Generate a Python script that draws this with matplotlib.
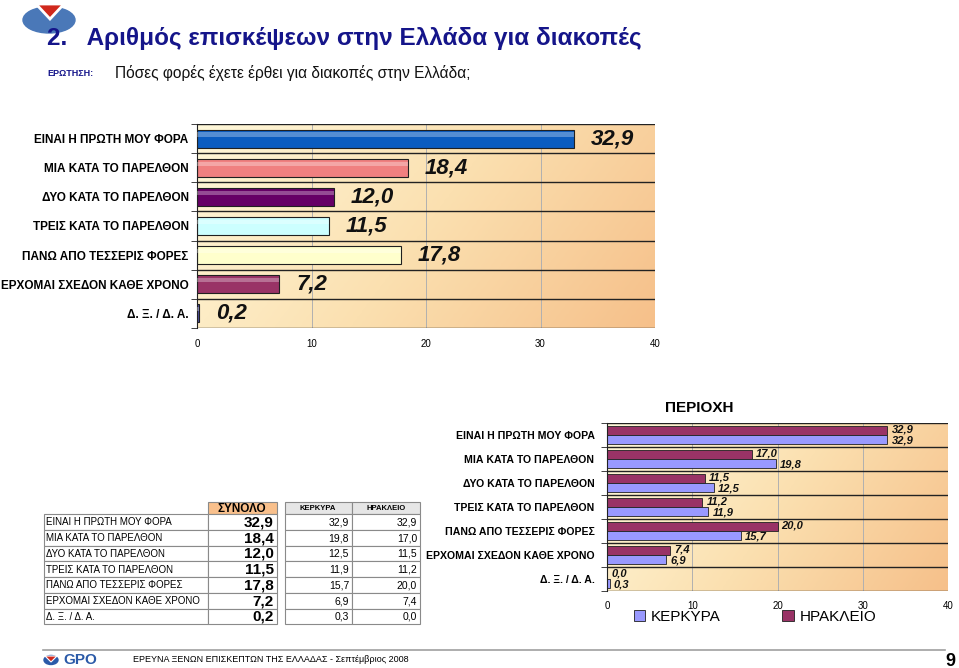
import matplotlib
matplotlib.use("Agg")
import matplotlib.pyplot as plt
import numpy as np
from matplotlib import font_manager
from matplotlib.colors import LinearSegmentedColormap
from matplotlib.patches import Ellipse, Polygon, Rectangle

# ---- data ----
categories = [
    "ΕΙΝΑΙ Η ΠΡΩΤΗ ΜΟΥ ΦΟΡΑ",
    "ΜΙΑ ΚΑΤΑ ΤΟ ΠΑΡΕΛΘΟΝ",
    "ΔΥΟ ΚΑΤΑ ΤΟ ΠΑΡΕΛΘΟΝ",
    "ΤΡΕΙΣ ΚΑΤΑ ΤΟ ΠΑΡΕΛΘΟΝ",
    "ΠΑΝΩ ΑΠΟ ΤΕΣΣΕΡΙΣ ΦΟΡΕΣ",
    "ΕΡΧΟΜΑΙ ΣΧΕΔΟΝ ΚΑΘΕ ΧΡΟΝΟ",
    "Δ. Ξ. / Δ. Α.",
]
total = [32.9, 18.4, 12.0, 11.5, 17.8, 7.2, 0.2]
kerkyra = [32.9, 19.8, 12.5, 11.9, 15.7, 6.9, 0.3]
irakleio = [32.9, 17.0, 11.5, 11.2, 20.0, 7.4, 0.0]
region_names = ["ΚΕΡΚΥΡΑ", "ΗΡΑΚΛΕΙΟ"]
x_ticks = [0, 10, 20, 30, 40]

title = "2.   Αριθμός επισκέψεων στην Ελλάδα για διακοπές"
question = "Πόσες φορές έχετε έρθει για διακοπές στην Ελλάδα;"
footer = "ΕΡΕΥΝΑ ΞΕΝΩΝ ΕΠΙΣΚΕΠΤΩΝ ΤΗΣ ΕΛΛΑΔΑΣ - Σεπτέμβριος 2008"

bar_colors = ["#0a5cc0", "#f08080", "#660066", "#ccffff", "#ffffcc", "#993366", "#5050a0"]
c_ker, c_ira = "#9999ff", "#993366"

names = {f.name for f in font_manager.fontManager.ttflist}
SANS = "Liberation Sans" if "Liberation Sans" in names else "DejaVu Sans"
NARROW = "Liberation Sans Narrow" if "Liberation Sans Narrow" in names else SANS
plt.rcParams["font.family"] = [SANS, "DejaVu Sans"]

W, H = 959, 668
fig = plt.figure(figsize=(W / 100, H / 100), dpi=100)


def box(l, t, r, b):
    return [l / W, 1 - b / H, (r - l) / W, (b - t) / H]


def fmt(v):
    return f"{v:.1f}".replace(".", ",")


# pixel-space overlay for the slide furniture
ov = fig.add_axes([0, 0, 1, 1])
ov.set_xlim(0, W)
ov.set_ylim(H, 0)
ov.axis("off")

# logo
ov.add_patch(Ellipse((49, 20), 52, 26, color="#4a78b8", zorder=1))
ov.add_patch(Polygon([[36, 4], [64, 4], [50, 19]], closed=True, fc="#d0281c",
                     ec="white", lw=2, zorder=2))
ov.text(47, 45, title, fontsize=17.5, fontweight="bold", color="#15158a", va="baseline")
ov.text(47, 73, "ΕΡΩΤΗΣΗ:", fontsize=6.5, fontweight="bold", color="#15158a", va="center")
ov.text(115, 73, question, fontsize=11.2, color="#111111", va="center")

# background gradient
cmap = LinearSegmentedColormap.from_list("bg", ["#fff8da", "#fbe0b0", "#f6c08a"])
gx, gy = np.meshgrid(np.linspace(0, 1, 200), np.linspace(0, 1, 100))
grad = 0.75 * gx + 0.25 * gy


def style_chart(ax):
    ax.imshow(grad, extent=[0, 40, 6.5, -0.5], aspect="auto", cmap=cmap,
              zorder=0, interpolation="bilinear")
    ax.set_xlim(0, 40)
    ax.set_ylim(6.5, -0.5)
    for v in x_ticks[1:-1]:
        ax.axvline(v, color="#b0b0b0", lw=0.7, zorder=1)
    for b in np.arange(-0.5, 7, 1):
        ax.axhline(b, color="#222222", lw=1.0, zorder=1)
    for s in ["top", "right", "bottom"]:
        ax.spines[s].set_visible(False)
    ax.spines["left"].set_color("#222222")
    ax.set_xticks(x_ticks)
    ax.set_yticks(np.arange(-0.5, 7, 1), minor=True)
    ax.tick_params(axis="y", which="minor", length=4, color="#222222")
    ax.tick_params(axis="y", which="major", length=0)
    ax.tick_params(axis="x", length=0, labelsize=7)


# ---- top chart: total ----
ax1 = fig.add_axes(box(197, 124, 655, 328))
style_chart(ax1)
ax1.tick_params(axis="x", pad=8)
ypos = np.arange(len(categories))
ax1.barh(ypos, total, height=0.62, color=bar_colors, edgecolor="#202020", lw=0.8, zorder=2)
ax1.barh(ypos - 0.14, total, height=0.14, color="white", alpha=0.3, lw=0, zorder=3)
ax1.set_yticks(ypos)
ax1.set_yticklabels(categories, fontsize=8.5, fontweight="bold", family=[NARROW, "DejaVu Sans"])
ax1.tick_params(axis="y", pad=6)
for y, v in zip(ypos, total):
    ax1.annotate(fmt(v), (v, y), xytext=(12, 0),
                 textcoords="offset points", va="center", ha="left",
                 fontsize=16, fontweight="bold", style="italic", color="#111111", zorder=4)

# ---- bottom chart: by region ----
ax2 = fig.add_axes(box(607, 423, 948, 591))
style_chart(ax2)
ax2.tick_params(axis="x", pad=7)
b_ira = ax2.barh(ypos - 0.19, irakleio, height=0.38, color=c_ira, edgecolor="#202020", lw=0.6, zorder=2)
b_ker = ax2.barh(ypos + 0.19, kerkyra, height=0.38, color=c_ker, edgecolor="#202020", lw=0.6, zorder=2)
ax2.set_yticks(ypos)
ax2.set_yticklabels(categories, fontsize=7.6, fontweight="bold", family=[NARROW, "DejaVu Sans"])
ax2.tick_params(axis="y", pad=9)
for vals, off in [(irakleio, -0.21), (kerkyra, 0.21)]:
    for y, v in zip(ypos, vals):
        ax2.annotate(fmt(v), (v, y + off), xytext=(3, 0),
                     textcoords="offset points", va="center", ha="left",
                     fontsize=8, fontweight="bold", style="italic", color="#111111", zorder=4)
ax2.set_title("ΠΕΡΙΟΧΗ", fontsize=11, fontweight="bold", pad=8, x=0.27)
fig.legend([b_ker, b_ira], region_names, loc="center", bbox_to_anchor=(755 / W, 1 - 617 / H),
           ncol=2, frameon=False, fontsize=11, handlelength=0.75, handleheight=0.75,
           handletextpad=0.4, columnspacing=4)

# ---- table ----
rh = 15.75
row_top = [514 + i * rh for i in range(len(categories))]
grid_c = "#8a8a8a"
ov.add_patch(Rectangle((208, 502), 69, 12, fc="#f9c08c", ec=grid_c, lw=0.8))
ov.add_patch(Rectangle((285, 502), 67, 12, fc="#e6e6e6", ec=grid_c, lw=0.8))
ov.add_patch(Rectangle((352, 502), 68, 12, fc="#e6e6e6", ec=grid_c, lw=0.8))
ov.text(242, 508.5, "ΣΥΝΟΛΟ", fontsize=8.5, fontweight="bold", ha="center", va="center")
ov.text(318, 508.5, region_names[0], fontsize=5.5, fontweight="bold", ha="center", va="center")
ov.text(386, 508.5, region_names[1], fontsize=5.5, fontweight="bold", ha="center", va="center")
for i, cat in enumerate(categories):
    t = row_top[i]
    ov.add_patch(Rectangle((44, t), 164, rh, fc="white", ec=grid_c, lw=0.8))
    ov.add_patch(Rectangle((208, t), 69, rh, fc="white", ec=grid_c, lw=0.8))
    ov.add_patch(Rectangle((285, t), 67, rh, fc="white", ec=grid_c, lw=0.8))
    ov.add_patch(Rectangle((352, t), 68, rh, fc="white", ec=grid_c, lw=0.8))
    cy = t + rh / 2 + 0.5
    ov.text(46, cy, cat, fontsize=7, va="center")
    ov.text(274, cy, fmt(total[i]), fontsize=11, fontweight="bold", ha="right", va="center")
    ov.text(349, cy, fmt(kerkyra[i]), fontsize=7.5, ha="right", va="center")
    ov.text(417, cy, fmt(irakleio[i]), fontsize=7.5, ha="right", va="center")

# ---- footer ----
ov.plot([43, 945], [650, 650], color="#a0a0a0", lw=1.2)
ov.add_patch(Ellipse((51, 660), 14, 9, color="#2b5aa8"))
ov.add_patch(Polygon([[45, 656], [57, 656], [51, 662]], closed=True, fc="#d0281c", ec="white", lw=0.8))
ov.text(63, 660, "GPO", fontsize=11, fontweight="bold", color="#2b5aa8", va="center")
ov.text(133, 660, footer, fontsize=6.5, va="center", family=[NARROW, "DejaVu Sans"])
ov.text(955, 661, "9", fontsize=13, fontweight="bold", ha="right", va="center")

fig.savefig("out.png", dpi=100)
